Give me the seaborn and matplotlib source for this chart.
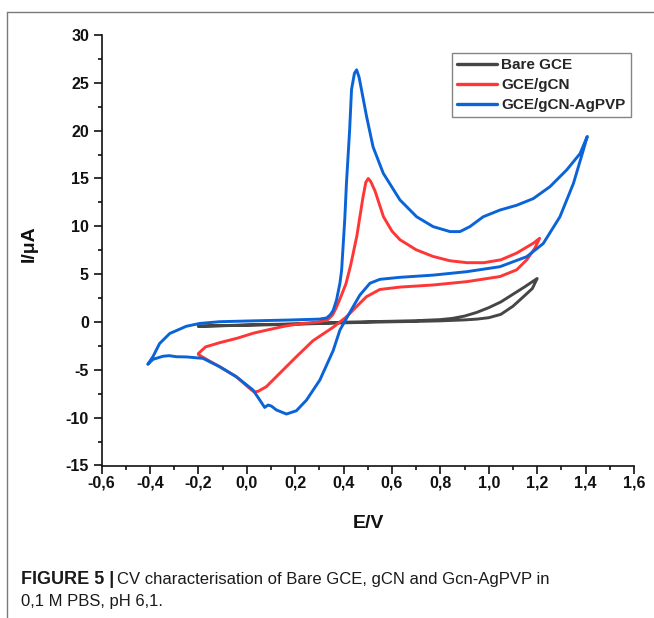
import numpy as np
import pandas as pd
import seaborn as sns
import matplotlib
matplotlib.use("Agg")
import matplotlib.pyplot as plt
from matplotlib.ticker import AutoMinorLocator, FuncFormatter
from matplotlib.lines import Line2D

# ---------------- data ----------------
series_names = ["Bare GCE", "GCE/gCN", "GCE/gCN-AgPVP"]
series_colors = ["#464646", "#ff3636", "#0a64d8"]

bare_E = [-0.2, -0.1, 0.0, 0.1, 0.2, 0.3, 0.4, 0.5, 0.6, 0.7, 0.8, 0.85, 0.9, 0.95,
          1.0, 1.05, 1.1, 1.15, 1.2,
          1.18, 1.15, 1.1, 1.05, 1.0, 0.95, 0.9, 0.8, 0.7, 0.6, 0.5, 0.4, 0.3,
          0.2, 0.1, 0.0, -0.1, -0.2]
bare_I = [-0.45, -0.38, -0.3, -0.25, -0.2, -0.12, -0.02, 0.03, 0.08, 0.14, 0.25, 0.38, 0.62, 1.0,
          1.5, 2.1, 2.9, 3.7, 4.55,
          3.5, 2.8, 1.65, 0.8, 0.45, 0.3, 0.22, 0.12, 0.06, 0.02, -0.03, -0.09, -0.16,
          -0.23, -0.29, -0.34, -0.39, -0.43]

gcn_E = [-0.2, -0.17, -0.11, -0.04, 0.03, 0.1, 0.16, 0.23, 0.3, 0.335, 0.355, 0.37, 0.385,
         0.41, 0.43, 0.455, 0.48, 0.492, 0.502, 0.512, 0.53, 0.565, 0.6, 0.633, 0.7, 0.77,
         0.84, 0.91, 0.98, 1.05, 1.115, 1.185, 1.21,
         1.19, 1.157, 1.115, 1.046, 0.91, 0.77, 0.633, 0.55, 0.495, 0.467, 0.426, 0.41,
         0.357, 0.274, 0.205, 0.136, 0.081, 0.047, 0.03, 0.012, -0.043, -0.112, -0.17, -0.2]
gcn_I = [-3.3, -2.6, -2.15, -1.7, -1.15, -0.75, -0.42, -0.15, 0.02, 0.25, 0.75, 1.5, 2.4,
         4.0, 6.0, 9.0, 13.0, 14.6, 15.0, 14.7, 13.7, 11.0, 9.5, 8.6, 7.55, 6.85,
         6.4, 6.2, 6.2, 6.5, 7.2, 8.25, 8.75,
         7.7, 6.5, 5.45, 4.75, 4.22, 3.87, 3.65, 3.4, 2.65, 1.95, 0.9, 0.5,
         -0.55, -1.95, -3.63, -5.37, -6.76, -7.25, -7.3, -6.94, -5.72, -4.67, -3.85, -3.4]

agpvp_E = [-0.408, -0.395, -0.387, -0.36, -0.318, -0.25, -0.194, -0.112, 0.026, 0.164, 0.3,
           0.33, 0.345, 0.357, 0.371, 0.385, 0.392, 0.405, 0.412, 0.425, 0.433, 0.445, 0.454,
           0.464, 0.474, 0.495, 0.522, 0.564, 0.633, 0.702, 0.77, 0.84, 0.881, 0.922, 0.977,
           1.046, 1.115, 1.184, 1.253, 1.322, 1.377, 1.407,
           1.391, 1.35, 1.294, 1.225, 1.157, 1.046, 0.909, 0.77, 0.633, 0.55, 0.509, 0.467,
           0.426, 0.385, 0.357, 0.302, 0.247, 0.205, 0.164, 0.123, 0.102, 0.088, 0.074, 0.054,
           0.026, -0.043, -0.112, -0.181, -0.25, -0.291, -0.32, -0.346, -0.387, -0.408]
agpvp_I = [-4.4, -3.9, -3.6, -2.25, -1.2, -0.45, -0.15, 0.03, 0.12, 0.2, 0.3,
           0.42, 0.75, 1.2, 2.3, 4.05, 5.4, 10.7, 14.5, 20.0, 24.3, 26.0, 26.36,
           25.6, 24.3, 21.5, 18.3, 15.55, 12.76, 11.0, 9.97, 9.45, 9.45, 9.97, 11.0,
           11.7, 12.2, 12.9, 14.15, 15.9, 17.6, 19.4,
           18.0, 14.5, 11.0, 8.2, 6.83, 5.78, 5.26, 4.9, 4.67, 4.46, 4.05, 2.8,
           1.0, -0.84, -3.0, -6.07, -8.16, -9.28, -9.62, -9.2, -8.79, -8.68, -8.93, -8.16,
           -7.11, -5.72, -4.67, -3.8, -3.65, -3.63, -3.52, -3.58, -3.9, -4.4]

x_ticks = [-0.6, -0.4, -0.2, 0.0, 0.2, 0.4, 0.6, 0.8, 1.0, 1.2, 1.4, 1.6]
y_ticks = [-15, -10, -5, 0, 5, 10, 15, 20, 25, 30]

caption_bold = "FIGURE 5 |"
caption_rest_1 = "CV characterisation of Bare GCE, gCN and Gcn-AgPVP in"
caption_line_2 = "0,1 M PBS, pH 6,1."

# ---------------- build table ----------------
frames = []
for name, E, I in zip(series_names, [bare_E, gcn_E, agpvp_E], [bare_I, gcn_I, agpvp_I]):
    frames.append(pd.DataFrame({"E": E, "I": I, "series": name}))
df = pd.concat(frames, ignore_index=True)

sns.set_theme(style="ticks")
plt.rcParams["font.family"] = ["Liberation Sans", "DejaVu Sans"]

W, H = 654, 618
fig = plt.figure(figsize=(W / 100, H / 100), dpi=100)
ax = fig.add_axes([101.5 / W, 1 - 465.5 / H, 532.5 / W, 430.5 / H])

sns.lineplot(data=df, x="E", y="I", hue="series", hue_order=series_names,
             palette=dict(zip(series_names, series_colors)), sort=False,
             estimator=None, units="series", linewidth=2.1, ax=ax, legend=False)

ax.set_xlim(x_ticks[0], x_ticks[-1])
ax.set_ylim(y_ticks[0], y_ticks[-1])
ax.set_xticks(x_ticks)
ax.set_yticks(y_ticks)
ax.xaxis.set_minor_locator(AutoMinorLocator(2))
ax.yaxis.set_minor_locator(AutoMinorLocator(2))
ax.xaxis.set_major_formatter(FuncFormatter(lambda v, p: f"{v:.1f}".replace(".", ",").replace("-0,0", "0,0")))
ax.yaxis.set_major_formatter(FuncFormatter(lambda v, p: f"{int(round(v))}"))

for s in ["top", "right"]:
    ax.spines[s].set_visible(False)
for s in ["left", "bottom"]:
    ax.spines[s].set_linewidth(1.2)
    ax.spines[s].set_color("#111111")
ax.tick_params(which="major", direction="out", length=6, width=1.2, color="#111111",
               labelsize=11.5)
ax.tick_params(axis="x", which="major", pad=1.5)
ax.tick_params(axis="y", which="major", pad=3)
ax.tick_params(which="minor", direction="out", length=3.1, width=1.2, color="#111111")
for lab in ax.get_xticklabels() + ax.get_yticklabels():
    lab.set_fontweight("bold")
    lab.set_color("#111111")

ax.set_xlabel("E/V", fontsize=14, fontweight="bold", color="#111111")
ax.set_ylabel("I/\u03bcA", fontsize=14, fontweight="bold", color="#111111")
ax.xaxis.set_label_coords((368 - 101.5) / 532.5, (465.5 - 515) / 430.5)
ax.yaxis.set_label_coords((38 - 101.5) / 532.5, (465.5 - 244) / 430.5)

handles = [Line2D([0], [0], color=c, lw=2.4) for c in series_colors]
leg = ax.legend(handles, series_names, loc="upper right",
                bbox_to_anchor=((631 - 101.5) / 532.5, (465.5 - 53) / 430.5),
                borderaxespad=0, fancybox=False, frameon=True, handlelength=2.6,
                handletextpad=0.3, labelspacing=0.38, borderpad=0.35,
                prop={"weight": "bold", "size": 11})
leg.get_frame().set_edgecolor("#666666")
leg.get_frame().set_linewidth(1.0)

# article frame lines
fig.add_artist(Line2D([7 / W, 1.0], [1 - 12 / H, 1 - 12 / H], transform=fig.transFigure,
                      color="#7a7a7a", lw=1.0))
fig.add_artist(Line2D([7 / W, 7 / W], [0.0, 1 - 12 / H], transform=fig.transFigure,
                      color="#7a7a7a", lw=1.0))

# caption
t1 = fig.text(21 / W, 1 - 584 / H, caption_bold, fontsize=13, fontweight="bold",
              color="#1a1a1a", va="baseline", ha="left")
fig.canvas.draw()
bb = t1.get_window_extent(renderer=fig.canvas.get_renderer())
x_next = (bb.x1 + 3) / fig.bbox.width
fig.text(x_next, 1 - 584 / H, caption_rest_1, fontsize=12, color="#1a1a1a",
         va="baseline", ha="left")
fig.text(21 / W, 1 - 606 / H, caption_line_2, fontsize=12, color="#1a1a1a",
         va="baseline", ha="left")

fig.savefig("out.png", dpi=100)
